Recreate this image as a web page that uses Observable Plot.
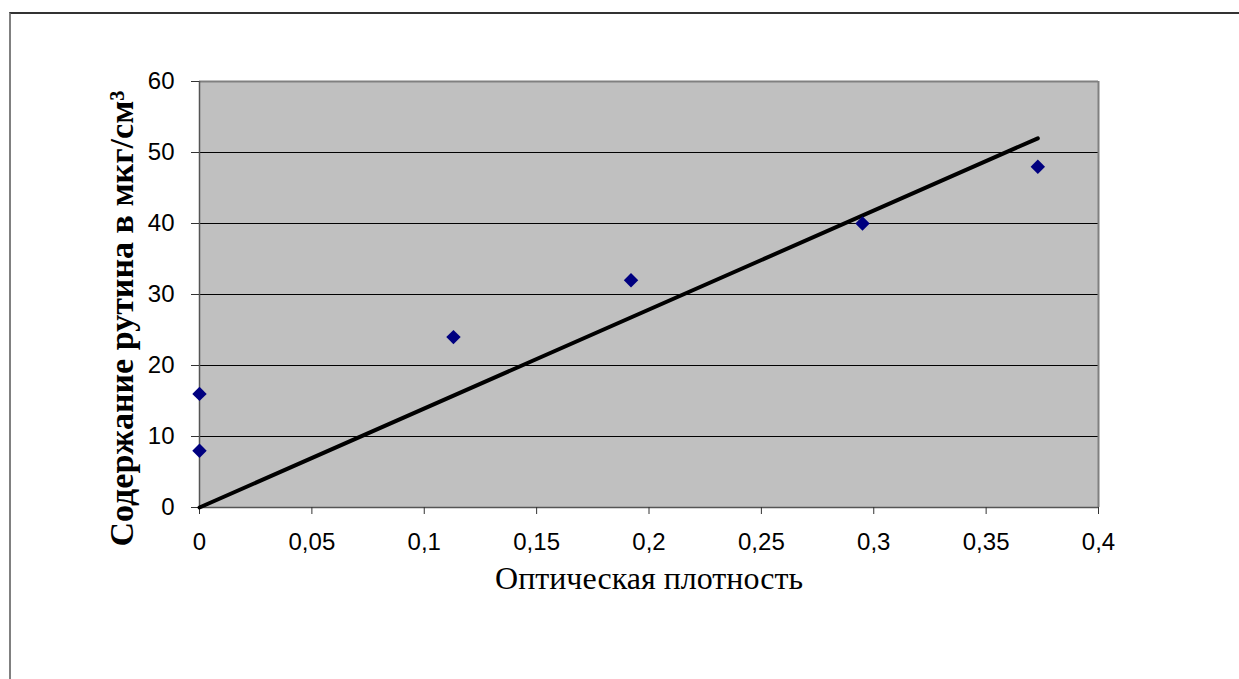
<!DOCTYPE html>
<html>
<head>
<meta charset="utf-8">
<script src="https://cdn.jsdelivr.net/npm/d3@7"></script>
<script src="https://cdn.jsdelivr.net/npm/@observablehq/plot@0.6"></script>
<style>
  html, body { margin: 0; padding: 0; background: #fff; }
  #wrap { position: relative; width: 1239px; height: 679px; overflow: hidden; }
  #border { position: absolute; left: 9px; top: 12px; width: 1300px; height: 700px;
            border-left: 2px solid #808080; border-top: 2px solid #333; box-sizing: border-box; pointer-events: none; }
  #chart { position: absolute; left: 0; top: 0; }
</style>
</head>
<body>
<div id="wrap"><div id="chart"></div><div id="border"></div></div>
<script>
// Data
const opticalDensity = [0, 0, 0.113, 0.192, 0.295, 0.373];
const rutinContent = [8, 16, 24, 32, 40, 48];
const trendX = [0, 0.373];
const trendY = [0, 52.0];
const xTicks = [0, 0.05, 0.1, 0.15, 0.2, 0.25, 0.3, 0.35, 0.4];
const yTicks = [0, 10, 20, 30, 40, 50, 60];
const gridValues = [10, 20, 30, 40, 50];
const xTitle = "Оптическая плотность";
const yTitle = "Содержание рутина в мкг/см³";

const points = opticalDensity.map((x, i) => ({x, y: rutinContent[i]}));
const trend = trendX.map((x, i) => ({x, y: trendY[i]}));
const fmt = d => String(d).replace(".", ",");

const sansFont = "Liberation Sans, Arial, sans-serif";
const serifFont = "Liberation Serif, Times New Roman, serif";

const chart = Plot.plot({
  width: 1239,
  height: 679,
  marginLeft: 199,
  marginRight: 141,
  marginTop: 81,
  marginBottom: 172,
  style: {background: "transparent", fontFamily: sansFont, overflow: "visible"},
  x: {domain: [0, 0.4]},
  y: {domain: [0, 60]},
  marks: [
    Plot.frame({fill: "#c0c0c0", stroke: null}),
    Plot.ruleY(gridValues, {stroke: "#000", strokeWidth: 1}),
    Plot.ruleY([60], {stroke: "#808080", strokeWidth: 2}),
    Plot.ruleX([0.4], {stroke: "#808080", strokeWidth: 2}),
    Plot.ruleX([0], {stroke: "#555", strokeWidth: 1.5}),
    Plot.ruleY([0], {stroke: "#555", strokeWidth: 1.5}),
    Plot.axisX({ticks: xTicks, tickFormat: fmt, tickSize: 7, tickPadding: 18, fontSize: 24, stroke: "#333", fill: "#000", label: null}),
    Plot.axisY({ticks: yTicks, tickFormat: fmt, tickSize: 8, tickPadding: 17, fontSize: 24, stroke: "#333", fill: "#000", label: null}),
    Plot.line(trend, {x: "x", y: "y", stroke: "#000", strokeWidth: 4}),
    Plot.dot(points, {x: "x", y: "y", symbol: "diamond2", r: 6.5, fill: "#000080", stroke: null}),
    Plot.text([xTitle], {frameAnchor: "bottom", dy: 81, fontSize: 32, fontFamily: serifFont, fill: "#000"}),
    Plot.text([yTitle], {frameAnchor: "left", textAnchor: "middle", dx: -77, dy: 24, rotate: -90, fontSize: 34, fontWeight: "bold", fontFamily: serifFont, fill: "#000"})
  ]
});
document.getElementById("chart").append(chart);
</script>
</body>
</html>
